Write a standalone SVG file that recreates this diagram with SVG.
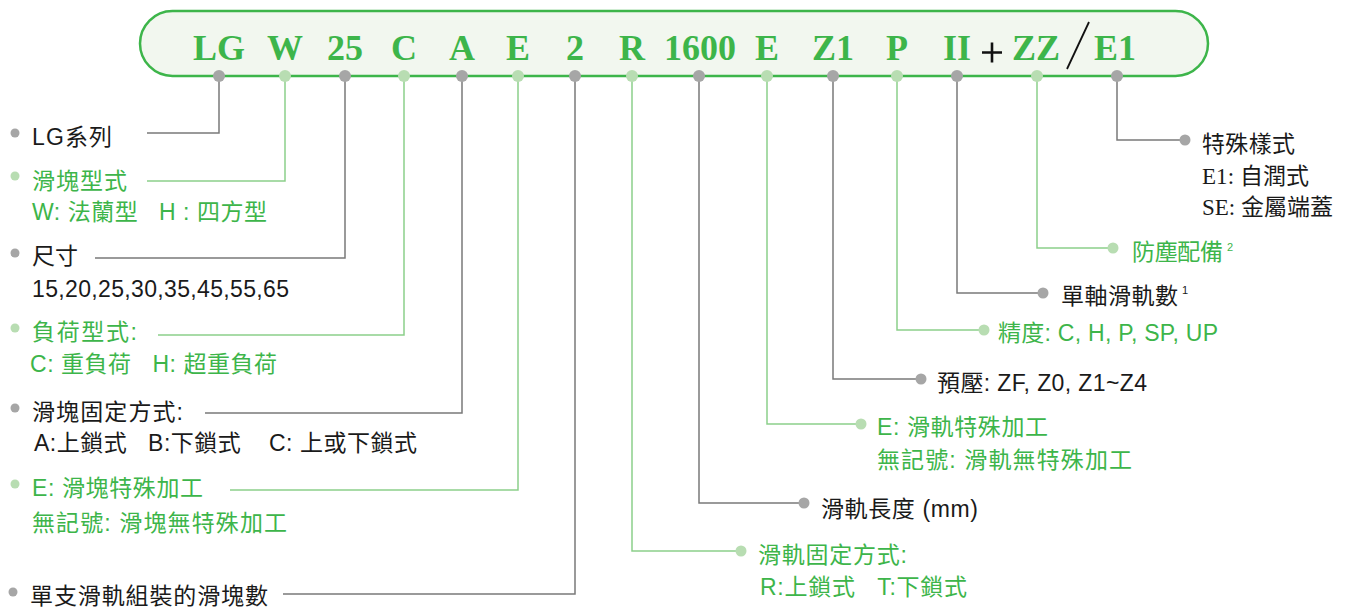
<svg xmlns="http://www.w3.org/2000/svg" width="1346" height="611" viewBox="0 0 1346 611" xml:space="preserve">
<style>
.h{font-family:"Liberation Serif",serif;font-weight:bold;font-size:36px;fill:#3db54a;text-anchor:middle}
.t{font-family:"Liberation Sans","Noto Sans CJK TC",sans-serif;font-size:23px;white-space:pre}
.s{font-family:"Liberation Serif","Noto Sans CJK TC",serif;font-size:23px;white-space:pre}
.k{fill:#1a1a1a}
.g{fill:#3db54a}
.sup{font-family:"Liberation Sans",sans-serif;font-size:11px}
.lk{fill:none;stroke:#7a7a7a;stroke-width:1.5}
.lg{fill:none;stroke:#8ccf8a;stroke-width:1.5}
.dk{fill:#a6a6a6}
.dg{fill:#b8ddb2}
</style>
<rect x="140" y="11" width="1068" height="65" rx="32.5" ry="32.5" fill="#f2f7ef" stroke="#3db54a" stroke-width="2.5"/>
<g id="connectors">
<path class="lk" d="M219 76V133H147"/>
<path class="lg" d="M285 76V181H147"/>
<path class="lk" d="M345 76V258H95"/>
<path class="lg" d="M404 76V335H158"/>
<path class="lk" d="M462 76V413H205"/>
<path class="lg" d="M518 76V490H230"/>
<path class="lk" d="M575 76V594H283"/>
<path class="lg" d="M632 76V551H741"/>
<path class="lk" d="M699 76V503H804"/>
<path class="lg" d="M767 76V424H861"/>
<path class="lk" d="M833 76V379H921"/>
<path class="lg" d="M897 76V330H984"/>
<path class="lk" d="M957 76V293H1043"/>
<path class="lg" d="M1037 76V248H1113"/>
<path class="lk" d="M1117 76V140H1185"/>
</g>
<g id="n-lg">
<text class="h" x="219" y="60">LG</text>
<circle class="dk" cx="219" cy="76" r="6"/>
<circle class="dk" cx="15" cy="133" r="4.5"/>
<text class="t k" x="32" y="145" textLength="80" lengthAdjust="spacing">LG系列</text>
</g>
<g id="n-w">
<text class="h" x="285" y="60">W</text>
<circle class="dg" cx="285" cy="76" r="6"/>
<circle class="dg" cx="15" cy="176" r="4.5"/>
<text class="t g" x="32" y="189" textLength="95" lengthAdjust="spacing">滑塊型式</text>
<text class="t g" x="32" y="220" textLength="235" lengthAdjust="spacing">W: 法蘭型   H : 四方型</text>
</g>
<g id="n-25">
<text class="h" x="345" y="60">25</text>
<circle class="dk" cx="345" cy="76" r="6"/>
<circle class="dk" cx="15" cy="253" r="4.5"/>
<text class="t k" x="32" y="264" textLength="46" lengthAdjust="spacing">尺寸</text>
<text class="t k" x="32" y="297" textLength="257" lengthAdjust="spacing">15,20,25,30,35,45,55,65</text>
</g>
<g id="n-c">
<text class="h" x="404" y="60">C</text>
<circle class="dg" cx="404" cy="76" r="6"/>
<circle class="dg" cx="15" cy="328" r="4.5"/>
<text class="t g" x="32" y="340" textLength="105" lengthAdjust="spacing">負荷型式:</text>
<text class="t g" x="30" y="372" textLength="247" lengthAdjust="spacing">C: 重負荷   H: 超重負荷</text>
</g>
<g id="n-a">
<text class="h" x="462" y="60">A</text>
<circle class="dk" cx="462" cy="76" r="6"/>
<circle class="dk" cx="15" cy="408" r="4.5"/>
<text class="t k" x="32" y="420" textLength="151" lengthAdjust="spacing">滑塊固定方式:</text>
<text class="t k" x="34" y="451" textLength="383" lengthAdjust="spacing">A:上鎖式   B:下鎖式    C: 上或下鎖式</text>
</g>
<g id="n-e">
<text class="h" x="518" y="60">E</text>
<circle class="dg" cx="518" cy="76" r="6"/>
<circle class="dg" cx="15" cy="484" r="4.5"/>
<text class="t g" x="32" y="496" textLength="171" lengthAdjust="spacing">E: 滑塊特殊加工</text>
<text class="t g" x="32" y="531" textLength="255" lengthAdjust="spacing">無記號: 滑塊無特殊加工</text>
</g>
<g id="n-2">
<text class="h" x="575" y="60">2</text>
<circle class="dk" cx="575" cy="76" r="6"/>
<circle class="dk" cx="13" cy="592" r="4.5"/>
<text class="t k" x="30" y="604" textLength="238" lengthAdjust="spacing">單支滑軌組裝的滑塊數</text>
</g>
<g id="n-r">
<text class="h" x="632" y="60">R</text>
<circle class="dg" cx="632" cy="76" r="6"/>
<circle class="dg" cx="741" cy="551" r="5.5"/>
<text class="t g" x="758" y="563" textLength="149" lengthAdjust="spacing">滑軌固定方式:</text>
<text class="t g" x="760" y="595" textLength="207" lengthAdjust="spacing">R:上鎖式   T:下鎖式</text>
</g>
<g id="n-1600">
<text class="h" x="700" y="60">1600</text>
<circle class="dk" cx="699" cy="76" r="6"/>
<circle class="dk" cx="804" cy="503" r="5.5"/>
<text class="t k" x="821" y="517" textLength="157" lengthAdjust="spacing">滑軌長度 (mm)</text>
</g>
<g id="n-e2">
<text class="h" x="767" y="60">E</text>
<circle class="dg" cx="767" cy="76" r="6"/>
<circle class="dg" cx="861" cy="424" r="5.5"/>
<text class="t g" x="877" y="435" textLength="171" lengthAdjust="spacing">E: 滑軌特殊加工</text>
<text class="t g" x="877" y="468" textLength="255" lengthAdjust="spacing">無記號: 滑軌無特殊加工</text>
</g>
<g id="n-z1">
<text class="h" x="833" y="60">Z1</text>
<circle class="dk" cx="833" cy="76" r="6"/>
<circle class="dk" cx="921" cy="379" r="5.5"/>
<text class="t k" x="937" y="391" textLength="210" lengthAdjust="spacing">預壓: ZF, Z0, Z1~Z4</text>
</g>
<g id="n-p">
<text class="h" x="897" y="60">P</text>
<circle class="dg" cx="897" cy="76" r="6"/>
<circle class="dg" cx="984" cy="330" r="5.5"/>
<text class="t g" x="998" y="341" textLength="220" lengthAdjust="spacing">精度: C, H, P, SP, UP</text>
</g>
<g id="n-ii">
<text class="h" x="957" y="60">II</text>
<circle class="dk" cx="957" cy="76" r="6"/>
<circle class="dk" cx="1043" cy="293" r="5.5"/>
<text class="t k" x="1061" y="304" textLength="117" lengthAdjust="spacing">單軸滑軌數</text>
<text class="sup k" x="1182" y="294">1</text>
</g>
<g id="n-plus">
<path d="M982 52.5H1002M992 42.5V62.5" stroke="#111" stroke-width="2.6" fill="none"/>
</g>
<g id="n-zz">
<text class="h" x="1036" y="60">ZZ</text>
<circle class="dg" cx="1037" cy="76" r="6"/>
<circle class="dg" cx="1113" cy="248" r="5.5"/>
<text class="t g" x="1132" y="260" textLength="91" lengthAdjust="spacing">防塵配備</text>
<text class="sup g" x="1227" y="251">2</text>
</g>
<g id="n-slash">
<path d="M1067 69L1089 22" stroke="#111" stroke-width="1.8" fill="none"/>
</g>
<g id="n-e1">
<text class="h" x="1115" y="60">E1</text>
<circle class="dk" cx="1117" cy="76" r="6"/>
<circle class="dk" cx="1185" cy="140" r="5.5"/>
<text class="s k" x="1202" y="152" textLength="93" lengthAdjust="spacing">特殊樣式</text>
<text class="s k" x="1202" y="184" textLength="107" lengthAdjust="spacing">E1: 自潤式</text>
<text class="s k" x="1202" y="215" textLength="131" lengthAdjust="spacing">SE: 金屬端蓋</text>
</g>
</svg>
